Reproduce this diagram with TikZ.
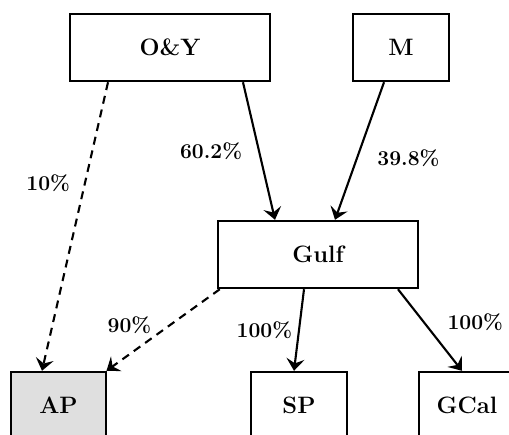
\documentclass[tikz,border=0pt]{standalone}
\usetikzlibrary{arrows.meta}
\usetikzlibrary{positioning}

\begin{document}
\begin{tikzpicture}[x=0.02cm, y=-0.02cm]
    \tikzset{
        every node/.style={font=\large\bfseries},
        firm/.style={draw, line width=1.4pt, minimum height=1.34cm, inner sep=0pt, font=\fontsize{13.5pt}{16pt}\selectfont\bfseries},
        own/.style={line width=1.2pt, -{Stealth[length=0.24cm, width=0.36cm, inset=0.09cm]}},
        dashline/.style={own, dash pattern=on 0.16cm off 0.12cm}
    }
    \useasboundingbox (0,0) rectangle (509,434);
    \clip (0,0) rectangle (509,434);

    % owners
    \node [firm, minimum width=4cm] (oy) at (170,47.5) {O\&Y};
    \node [firm, minimum width=1.92cm] (m) at (401,47.5) {M};
    \node [firm, minimum width=4cm] (gulf) at (318,254.5) {Gulf};

    % subsidiaries
    \node [firm, minimum width=1.9cm, fill=gray!25] (ap) at (58.5,405.5) {AP};
    \node [firm, minimum width=1.92cm] (sp) at (299,405.5) {SP};
    \node [firm, minimum width=1.92cm] (gcal) at (467,405.5) {GCal};

    \draw [dashline] ([xshift=-1.24cm]oy.south) -- ([xshift=-0.33cm]ap.north) node[pos=0.35, left=0.16cm] {10\%};
    \draw [own] ([xshift=1.46cm]oy.south) -- ([xshift=-0.86cm]gulf.north) node[pos=0.5, left=0.2cm] {60.2\%};
    \draw [own] ([xshift=-0.34cm]m.south) -- ([xshift=0.34cm]gulf.north) node[pos=0.55, right=0.27cm] {39.8\%};

    \draw [dashline] ([xshift=0.06cm]gulf.south west) -- ([xshift=0.96cm]ap.north) node[pos=0.5, left=0.1cm, yshift=0.1cm] {90\%};
    \draw [own] ([xshift=-0.28cm]gulf.south) -- ([xshift=-0.1cm]sp.north) node[pos=0.5, left=0cm] {100\%};
    \draw [own] ([xshift=1.6cm]gulf.south) -- ([xshift=-0.1cm]gcal.north) node[pos=0.4, right=0.34cm] {100\%};

\end{tikzpicture}
\end{document}
